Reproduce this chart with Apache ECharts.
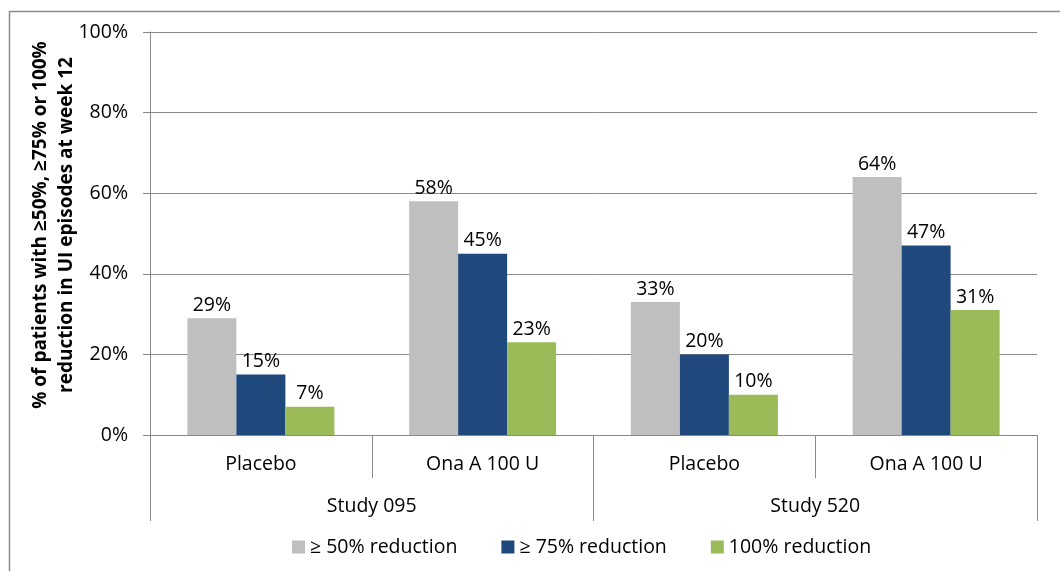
<!DOCTYPE html>
<html>
<head>
<meta charset="utf-8">
<script src="https://cdn.jsdelivr.net/npm/echarts@6/dist/echarts.min.js"></script>
<style>
  html, body { margin: 0; padding: 0; background: #fff; }
  #chart { width: 1060px; height: 571px; }
</style>
</head>
<body>
<div id="chart"></div>
<script>
// Treatment arms (inner axis level) and studies (outer axis level)
const arms = ['Placebo', 'Ona A 100 U', 'Placebo', 'Ona A 100 U'];
const studies = ['Study 095', 'Study 520'];

// Percent of patients reaching each reduction threshold
const seriesNames = ['\u2265 50% reduction', '\u2265 75% reduction', '100% reduction'];
const reduction50 = [29, 58, 33, 64];
const reduction75 = [15, 45, 20, 47];
const reduction100 = [7, 23, 10, 31];

const yTicks = [0, 20, 40, 60, 80, 100];
const yTitle = '% of patients with \u226550%, \u226575% or 100%\nreduction in UI episodes at week 12';

const FONT = '"Open Sans", Lato, sans-serif';
const FS = 19.5;
const AXIS_GREY = '#8a8a8a';
const colors = ['#BFBFBF', '#1F497D', '#9BBB59'];

const chart = echarts.init(document.getElementById('chart'), null, { renderer: 'canvas' });

function barSeries(name, values, color) {
  return {
    name: name,
    type: 'bar',
    xAxisIndex: 0,
    data: values,
    barWidth: 49,
    barGap: '0%',
    itemStyle: { color: color },
    label: {
      show: true,
      position: 'top',
      distance: 3,
      formatter: p => p.value + '%',
      color: '#000',
      fontFamily: FONT,
      fontSize: FS
    }
  };
}

chart.setOption({
  animation: false,
  textStyle: { fontFamily: FONT },
  grid: { left: 150, right: 23, top: 32, bottom: 136, containLabel: false },
  graphic: [
    {
      // chart frame
      type: 'rect',
      shape: { x: 9.5, y: 11.5, width: 1200, height: 800 },
      style: { fill: 'none', stroke: '#8c8c8c', lineWidth: 1.5 },
      silent: true
    },
    {
      type: 'text',
      x: 54,
      y: 225,
      rotation: Math.PI / 2,
      style: {
        text: yTitle,
        font: 'bold 19px ' + FONT,
        fill: '#000',
        align: 'center',
        verticalAlign: 'middle',
        lineHeight: 26
      }
    }
  ],
  legend: {
    bottom: 9,
    left: 287,
    itemWidth: 13,
    itemHeight: 13,
    itemGap: 44,
    icon: 'rect',
    textStyle: { color: '#000', fontSize: FS, fontFamily: FONT },
    data: seriesNames
  },
  xAxis: [
    {
      type: 'category',
      data: arms,
      position: 'bottom',
      axisLine: { show: true, lineStyle: { color: AXIS_GREY, width: 1 } },
      axisTick: { show: true, interval: 0, length: 43, lineStyle: { color: AXIS_GREY } },
      axisLabel: { interval: 0, margin: 19, color: '#000', fontSize: FS, fontFamily: FONT },
      splitLine: { show: false }
    },
    {
      type: 'category',
      data: studies,
      position: 'bottom',
      axisLine: { show: false },
      axisTick: { show: true, interval: 0, length: 86, lineStyle: { color: AXIS_GREY } },
      axisLabel: { interval: 0, margin: 61, color: '#000', fontSize: FS, fontFamily: FONT },
      splitLine: { show: false }
    }
  ],
  yAxis: {
    type: 'value',
    min: yTicks[0],
    max: yTicks[yTicks.length - 1],
    interval: yTicks[1] - yTicks[0],
    axisLine: { show: true, lineStyle: { color: AXIS_GREY } },
    axisTick: { show: true, length: 7, lineStyle: { color: AXIS_GREY } },
    axisLabel: { formatter: '{value}%', margin: 22, color: '#000', fontSize: FS, fontFamily: FONT },
    splitLine: { show: true, lineStyle: { color: AXIS_GREY, width: 1 } }
  },
  series: [
    barSeries(seriesNames[0], reduction50, colors[0]),
    barSeries(seriesNames[1], reduction75, colors[1]),
    barSeries(seriesNames[2], reduction100, colors[2])
  ]
});
</script>
</body>
</html>
